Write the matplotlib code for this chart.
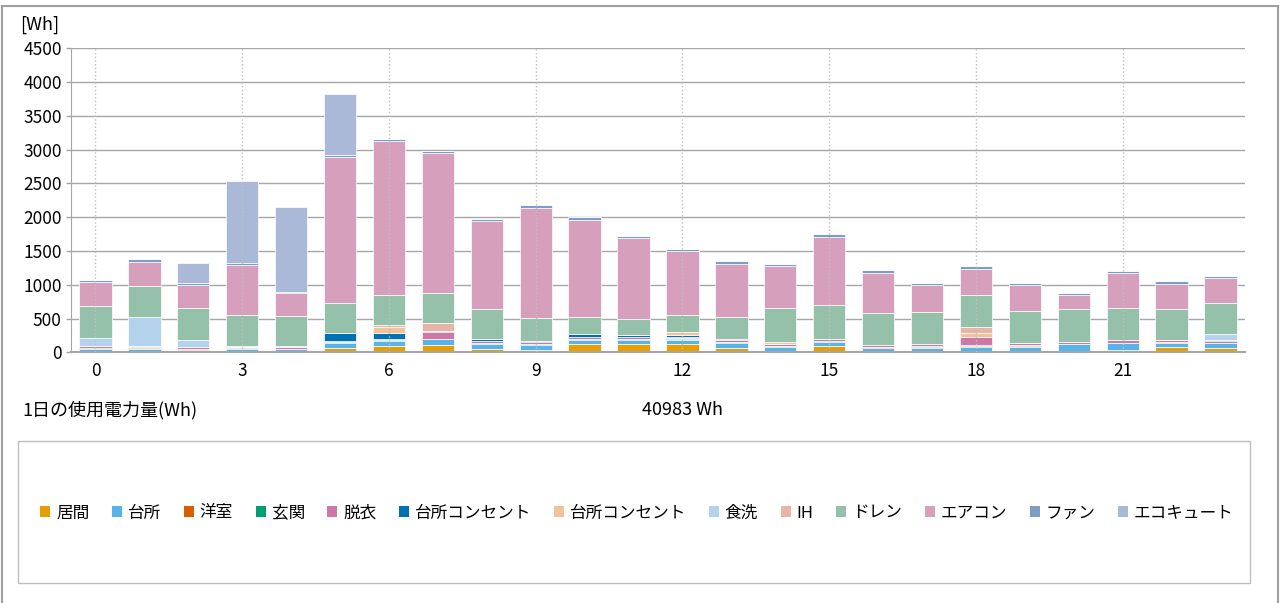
import numpy as np
import matplotlib.pyplot as plt
from matplotlib.patches import Patch, Rectangle

plt.rcParams['font.family'] = ['Noto Sans CJK JP', 'DejaVu Sans']

hours = list(range(24))
hour_ticks = [0, 3, 6, 9, 12, 15, 18, 21]

# hourly energy per circuit [Wh]
living = [0, 0, 0, 0, 0, 70, 89, 104, 49, 35, 119, 119, 119, 69, 10, 89, 10, 10, 20, 15, 10, 40, 74, 69]
kitchen = [50, 55, 40, 50, 50, 64, 74, 89, 69, 69, 64, 59, 69, 69, 69, 64, 60, 59, 64, 69, 109, 94, 69, 64]
western = [5, 10, 5, 5, 0, 5, 5, 5, 5, 5, 5, 5, 5, 5, 5, 5, 5, 15, 5, 5, 5, 5, 5, 5]
entrance = [15, 15, 5, 15, 5, 15, 10, 5, 15, 10, 15, 15, 15, 15, 15, 15, 8, 15, 15, 15, 5, 5, 5, 5]
dressing = [25, 10, 25, 15, 25, 15, 25, 94, 30, 30, 30, 30, 25, 30, 25, 30, 20, 30, 129, 35, 30, 35, 25, 30]
outlet_a = [5, 0, 0, 0, 0, 114, 84, 20, 30, 25, 35, 25, 30, 15, 0, 0, 0, 0, 0, 0, 0, 0, 0, 5]
outlet_b = [0, 0, 0, 0, 0, 0, 84, 0, 0, 0, 0, 0, 40, 0, 25, 0, 0, 0, 54, 0, 0, 0, 0, 0]
dishwasher = [115, 435, 114, 15, 10, 0, 0, 0, 0, 0, 0, 0, 0, 0, 0, 0, 0, 0, 0, 0, 0, 0, 0, 99]
ih = [0, 0, 0, 0, 0, 0, 35, 114, 0, 0, 0, 0, 0, 0, 10, 0, 0, 0, 84, 0, 0, 0, 0, 0]
drain = [474, 456, 465, 456, 450, 441, 445, 446, 450, 327, 252, 247, 253, 317, 500, 494, 486, 470, 484, 471, 476, 471, 460, 452]
aircon = [356, 361, 342, 737, 331, 2173, 2272, 2074, 1297, 1638, 1436, 1193, 940, 792, 619, 1015, 589, 391, 381, 386, 208, 520, 376, 371]
fan = [30, 35, 30, 25, 25, 25, 30, 35, 30, 40, 40, 30, 35, 35, 35, 35, 35, 35, 40, 35, 35, 35, 35, 35]
ecocute = [0, 0, 292, 1222, 1258, 901, 10, 0, 0, 0, 0, 0, 0, 0, 0, 0, 0, 0, 0, 0, 0, 0, 0, 0]

names = ["居間", "台所", "洋室", "玄関", "脱衣", "台所コンセント", "台所コンセント",
         "食洗", "IH", "ドレン", "エアコン", "ファン", "エコキュート"]
series = [living, kitchen, western, entrance, dressing, outlet_a, outlet_b,
          dishwasher, ih, drain, aircon, fan, ecocute]
colors = ["#E69F00", "#56B4E9", "#D55E00", "#009E73", "#CC79A7", "#0072B2", "#F0C39A",
          "#B2D3EB", "#E6B5A5", "#95C1AA", "#D6A0BD", "#7D9DC4", "#A9B9D7"]
total_label = "40983 Wh"

W, H = 1285, 603
fig = plt.figure(figsize=(W / 100, H / 100), dpi=100)
ax = fig.add_axes([71 / W, 1 - 352.3 / H, (1245 - 71) / W, (352.3 - 48.3) / H])

bottom = np.zeros(len(hours))
for name, vals, col in zip(names, series, colors):
    ax.bar(hours, vals, width=0.66, bottom=bottom, color=col,
           edgecolor="white", linewidth=0.5, zorder=2)
    bottom += np.array(vals)

ax.set_xlim(-0.5, 23.5)
ax.set_ylim(0, 4500)
ax.set_yticks(range(0, 4501, 500))
ax.set_xticks(hour_ticks)
ax.yaxis.grid(True, color="#A6A6A6", lw=1.0, zorder=0)
ax.set_axisbelow(True)
for h in hour_ticks:
    ax.axvline(h, color="#C0C0C0", ls=":", lw=1.0, zorder=3)

ax.tick_params(axis="y", length=3.6, width=1, color="#A6A6A6", pad=3, labelsize=12.5)
ax.tick_params(axis="x", length=0, pad=7, labelsize=12.5)
for s in ("top", "right"):
    ax.spines[s].set_visible(False)
ax.spines["left"].set_color("#A6A6A6")
ax.spines["bottom"].set_color("#A6A6A6")
ax.spines["bottom"].set_linewidth(1.5)

fig.text(20 / W, 1 - 25 / H, "[Wh]", fontsize=13, va="center", ha="left")
fig.text(22 / W, 1 - 410 / H, "1日の使用電力量(Wh)", fontsize=13, va="center", ha="left")
fig.text(642 / W, 1 - 410 / H, total_label, fontsize=13, va="center", ha="left")

handles = [Patch(facecolor=c) for c in colors]
fig.legend(handles, names, ncol=13, loc="center", bbox_to_anchor=(637 / W, 1 - 513 / H),
           frameon=False, fontsize=12, handlelength=0.6, handleheight=0.6,
           handletextpad=0.35, columnspacing=1.36)

fig.add_artist(Rectangle((18 / W, 1 - 583 / H), (1250 - 18) / W, (583 - 441) / H,
                         transform=fig.transFigure, fill=False, edgecolor="#BFBFBF", lw=1))
fig.add_artist(Rectangle((2 / W, -0.05), (1278 - 2) / W, 1.05 - 6 / H,
                         transform=fig.transFigure, fill=False, edgecolor="#A0A0A0",
                         lw=1.5, clip_on=False))

fig.savefig("out.png", dpi=100)
